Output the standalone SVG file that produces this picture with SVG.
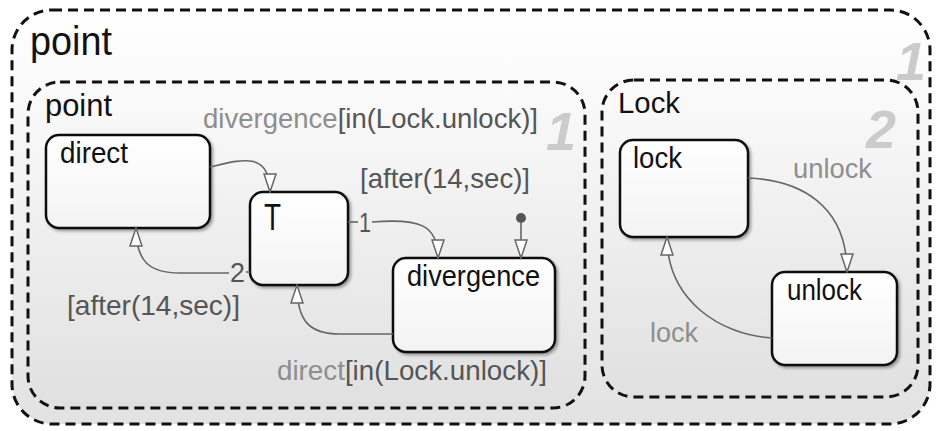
<svg xmlns="http://www.w3.org/2000/svg" width="936" height="431" viewBox="0 0 936 431">
  <style>
    .chart { stroke: #111; stroke-width: 3; stroke-dasharray: 10 6; }
    .state { fill: url(#stateFill); stroke: #111; stroke-width: 2.5; filter: url(#shadow); }
    .name { font-family: "Liberation Sans", Arial, sans-serif; fill: #111; }
    .lbl { font-family: "Liberation Sans", Arial, sans-serif; font-size: 28px; fill: #555; }
    .evt { fill: #8e8e8e; }
    .order { font-family: "Liberation Sans", Arial, sans-serif; font-size: 54px; font-style: italic; font-weight: bold; fill: #cbcbcb; }
    .wire { fill: none; stroke: #666; stroke-width: 1.6; }
  </style>
  <defs>
    <linearGradient id="outerFill" x1="0" y1="0" x2="0" y2="1">
      <stop offset="0" stop-color="#ffffff"/>
      <stop offset="1" stop-color="#e2e2e2"/>
    </linearGradient>
    <linearGradient id="innerFill" x1="0" y1="0" x2="0" y2="1">
      <stop offset="0" stop-color="#fbfbfb"/>
      <stop offset="1" stop-color="#e0e0e0"/>
    </linearGradient>
    <linearGradient id="stateFill" x1="0" y1="0" x2="0" y2="1">
      <stop offset="0" stop-color="#ffffff"/>
      <stop offset="1" stop-color="#f3f3f3"/>
    </linearGradient>
    <filter id="shadow" x="-10%" y="-10%" width="130%" height="130%">
      <feDropShadow dx="2" dy="2" stdDeviation="1.8" flood-color="#000" flood-opacity="0.35"/>
    </filter>
    <marker id="open" viewBox="0 0 20 14" refX="19" refY="7" markerWidth="20" markerHeight="14" markerUnits="userSpaceOnUse" orient="auto">
      <path d="M1,1 L19,7 L1,13 Z" fill="#ffffff" stroke="#666" stroke-width="1.5"/>
    </marker>
  </defs>

  <rect width="936" height="431" fill="#ffffff"/>

  <!-- top-level parallel chart -->
  <g id="point-outer">
    <rect class="chart" x="12" y="10" width="918" height="414" rx="40" fill="url(#outerFill)"/>
    <text class="name" x="30" y="55" font-size="40" textLength="82" lengthAdjust="spacingAndGlyphs">point</text>
    <text class="order" x="896" y="80">1</text>
  </g>

  <!-- point subchart -->
  <g id="point-inner">
    <rect class="chart" x="28" y="82" width="557" height="326" rx="32" fill="url(#innerFill)"/>
    <text class="name" x="45" y="116" font-size="31" textLength="67" lengthAdjust="spacingAndGlyphs">point</text>
    <text class="order" x="546" y="150">1</text>
  </g>

  <!-- Lock subchart -->
  <g id="lock-chart">
    <rect class="chart" x="602" y="80" width="316" height="317" rx="32" fill="url(#innerFill)"/>
    <text class="name" x="618" y="113" font-size="29" textLength="62" lengthAdjust="spacingAndGlyphs">Lock</text>
    <text class="order" x="866" y="148">2</text>
  </g>

  <!-- states -->
  <g id="direct">
    <rect class="state" x="46" y="135" width="164" height="93" rx="13"/>
    <text class="name" x="60" y="163" font-size="29" textLength="68" lengthAdjust="spacingAndGlyphs">direct</text>
  </g>
  <g id="T">
    <rect class="state" x="250" y="192" width="98" height="93" rx="13"/>
    <text class="name" x="264" y="230" font-size="36" textLength="17" lengthAdjust="spacingAndGlyphs">T</text>
  </g>
  <g id="divergence">
    <rect class="state" x="393" y="258" width="162" height="94" rx="13"/>
    <text class="name" x="407" y="286" font-size="29" textLength="133" lengthAdjust="spacingAndGlyphs">divergence</text>
  </g>
  <g id="lock">
    <rect class="state" x="620" y="140" width="128" height="97" rx="13"/>
    <text class="name" x="633" y="168" font-size="29" textLength="49" lengthAdjust="spacingAndGlyphs">lock</text>
  </g>
  <g id="unlock">
    <rect class="state" x="772" y="272" width="125" height="93" rx="13"/>
    <text class="name" x="787" y="300" font-size="29" textLength="75" lengthAdjust="spacingAndGlyphs">unlock</text>
  </g>

  <!-- transitions -->
  <g id="connectors">
    <path class="wire" d="M210,167 C240,160 270,150 270,192" marker-end="url(#open)"/>
    <path class="wire" d="M348,222 L358,222"/>
    <path class="wire" d="M372,222 C420,218 438,225 438,258" marker-end="url(#open)"/>
    <circle cx="521" cy="218" r="5" fill="#555"/>
    <path class="wire" d="M521,222 L521,258" marker-end="url(#open)"/>
    <path class="wire" d="M250,272 L246,272"/>
    <path class="wire" d="M229,273 L180,273 C150,273 136,262 136,228" marker-end="url(#open)"/>
    <path class="wire" d="M393,334 L340,334 C310,334 297,322 297,285" marker-end="url(#open)"/>
    <path class="wire" d="M748,178 C800,180 847,205 847,272" marker-end="url(#open)"/>
    <path class="wire" d="M772,338 C720,335 667,300 667,237" marker-end="url(#open)"/>

    <text class="lbl" x="203" y="128" textLength="335" lengthAdjust="spacingAndGlyphs"><tspan class="evt">divergence</tspan>[in(Lock.unlock)]</text>
    <text class="lbl" x="360" y="188" textLength="170" lengthAdjust="spacingAndGlyphs">[after(14,sec)]</text>
    <text class="lbl" x="359" y="232" textLength="12" lengthAdjust="spacingAndGlyphs">1</text>
    <text class="lbl" x="230" y="282" textLength="15" lengthAdjust="spacingAndGlyphs">2</text>
    <text class="lbl" x="67" y="315" textLength="173" lengthAdjust="spacingAndGlyphs">[after(14,sec)]</text>
    <text class="lbl" x="277" y="380" textLength="270" lengthAdjust="spacingAndGlyphs"><tspan class="evt">direct</tspan>[in(Lock.unlock)]</text>
    <text class="lbl evt" x="793" y="178" textLength="79" lengthAdjust="spacingAndGlyphs">unlock</text>
    <text class="lbl evt" x="650" y="342" textLength="48" lengthAdjust="spacingAndGlyphs">lock</text>
  </g>
</svg>
